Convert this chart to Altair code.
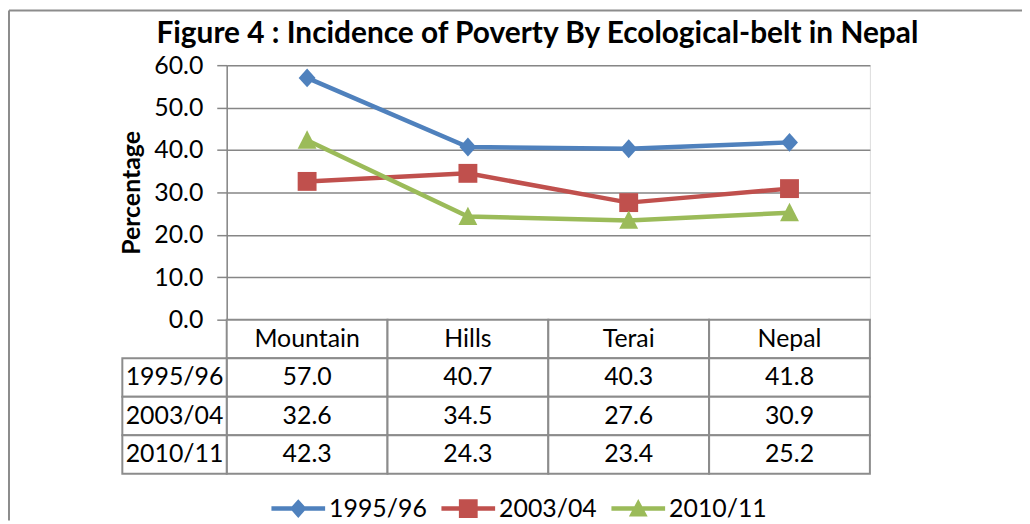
import altair as alt
import pandas as pd

# ---------------- data ----------------
categories = ["Mountain", "Hills", "Terai", "Nepal"]
series = ["1995/96", "2003/04", "2010/11"]
v1995 = [57.0, 40.7, 40.3, 41.8]
v2003 = [32.6, 34.5, 27.6, 30.9]
v2010 = [42.3, 24.3, 23.4, 25.2]
y_ticks = [0, 10, 20, 30, 40, 50, 60]
colors = ["#4F81BD", "#C0504D", "#9BBB59"]

values = {"1995/96": v1995, "2003/04": v2003, "2010/11": v2010}

rows = []
for s in series:
    for i, c in enumerate(categories):
        rows.append({"series": s, "category": c, "idx": i, "value": values[s][i]})
df = pd.DataFrame(rows)

table_rows = ["header"] + series
tcells = []
for c in categories:
    tcells.append({"category": c, "row": "header", "text": c})
for s in series:
    for i, c in enumerate(categories):
        tcells.append({"category": c, "row": s, "text": f"{values[s][i]:.1f}"})
tdf = pd.DataFrame(tcells)
ldf = pd.DataFrame({"lab": ["label"] * len(series), "row": series, "text": series})

# ---------------- style ----------------
W, H = 647, 256
TABLE_H = 155
FONT = "Lato"
FS = 25
GRID = "#868686"
TBL = "#8C8C8C"

# marker shapes (unit square coordinates)
marker_paths = [
    "M0,-0.95 L0.85,0 L0,0.95 L-0.85,0 Z",
    "M-0.95,-0.95 L0.95,-0.95 L0.95,0.95 L-0.95,0.95 Z",
    "M0,-1 L0.95,0.85 L-0.95,0.85 Z",
]
bar = "M-1,-0.083 L1,-0.083 L1,0.083 L-1,0.083 Z "
legend_paths = [
    bar + "M0,-0.35 L0.31,0 L0,0.35 L-0.31,0 Z",
    bar + "M-0.35,-0.35 L0.35,-0.35 L0.35,0.35 L-0.35,0.35 Z",
    bar + "M0,-0.36 L0.35,0.3 L-0.35,0.3 Z",
]

x_pt = alt.X("category:N", axis=None,
             scale=alt.Scale(type="point", domain=categories, padding=0.5))
y_lin = alt.Y("value:Q",
              scale=alt.Scale(domain=[0, 60], nice=False, zero=True),
              axis=alt.Axis(values=y_ticks, format=".1f", title="Percentage",
                            grid=True, gridColor=GRID, gridWidth=1.5,
                            domainColor=GRID, domainWidth=1.5,
                            tickColor=GRID, tickWidth=1.5, tickSize=10,
                            labelPadding=14, labelFont=FONT, labelFontSize=FS,
                            labelColor="black", labelFlush=False,
                            titleFont=FONT, titleFontSize=FS, titleFontWeight="bold",
                            titleColor="black", titleAngle=270, titleX=-96,
                            titleY=H / 2, titleAlign="center", titleBaseline="middle"))
y_lin_noaxis = alt.Y("value:Q", scale=alt.Scale(domain=[0, 60], nice=False, zero=True), axis=None)
col_scale = alt.Scale(domain=series, range=colors)

lines = alt.Chart(df).mark_line(strokeWidth=4.5).encode(
    x=x_pt, y=y_lin,
    color=alt.Color("series:N", scale=col_scale, legend=None),
    order=alt.Order("idx:Q"),
)
points = alt.Chart(df).mark_point(filled=True, size=400, opacity=1, strokeWidth=0).encode(
    x=x_pt, y=y_lin_noaxis,
    color=alt.Color("series:N", scale=col_scale, legend=None),
    shape=alt.Shape("series:N", scale=alt.Scale(domain=series, range=marker_paths), legend=None),
)

tbl_x = alt.X("category:N", axis=None,
              scale=alt.Scale(type="band", domain=categories, paddingInner=0, paddingOuter=0))
tbl_y = alt.Y("row:N", axis=None,
              scale=alt.Scale(type="band", domain=table_rows, range=[H, H + TABLE_H],
                              paddingInner=0, paddingOuter=0))
lab_x = alt.X("lab:N", axis=None,
              scale=alt.Scale(type="band", domain=["label"], range=[-105, 0],
                              paddingInner=0, paddingOuter=0))

cells = alt.Chart(tdf).mark_rect(fill="white", stroke=TBL, strokeWidth=2).encode(x=tbl_x, y=tbl_y)
cell_text = alt.Chart(tdf).mark_text(font=FONT, fontSize=FS, color="black",
                                     align="center", baseline="middle").encode(
    x=tbl_x, y=tbl_y, text="text:N")
lab_cells = alt.Chart(ldf).mark_rect(fill="white", stroke=TBL, strokeWidth=2).encode(x=lab_x, y=tbl_y)
lab_text = alt.Chart(ldf).mark_text(font=FONT, fontSize=FS, color="black",
                                    align="center", baseline="middle").encode(
    x=lab_x, y=tbl_y, text="text:N")

leg = alt.Legend(orient="none", legendX=45, legendY=419, direction="horizontal", title=None,
                 labelFont=FONT, labelFontSize=FS, labelColor="black",
                 symbolSize=2916, symbolStrokeWidth=0, symbolOpacity=1,
                 labelOffset=4, columnPadding=14)
legend_layer = alt.Chart(df).transform_filter("false").mark_point(
    filled=True, size=2916, strokeWidth=0, opacity=1).encode(
    color=alt.Color("series:N", scale=col_scale, legend=leg),
    shape=alt.Shape("series:N", scale=alt.Scale(domain=series, range=legend_paths), legend=leg),
)

one = pd.DataFrame({"a": [0]})
border_top = alt.Chart(one).mark_rule(color=TBL, strokeWidth=2).encode(
    x=alt.value(-219), x2=alt.value(800), y=alt.value(-55))
border_left = alt.Chart(one).mark_rule(color=TBL, strokeWidth=2).encode(
    x=alt.value(-219), y=alt.value(-55), y2=alt.value(458))

chart = alt.layer(
    border_top, border_left, cells, cell_text, lab_cells, lab_text, lines, points, legend_layer
).resolve_scale(
    x="independent", y="independent", color="independent", shape="independent"
).properties(
    width=W, height=H,
    autosize=alt.AutoSizeParams(type="none"),
    padding={"left": 220, "top": 56, "right": 153, "bottom": 202},
    title=alt.Title("Figure 4 : Incidence of Poverty By Ecological-belt in Nepal",
                    font=FONT, fontSize=30, fontWeight="bold", color="black",
                    anchor="middle", frame="group", dx=-11, offset=-64,
                    baseline="alphabetic"),
).configure_view(stroke=None).configure(background="white")

chart.save("out.html", embed_options={"renderer": "svg", "actions": False})
